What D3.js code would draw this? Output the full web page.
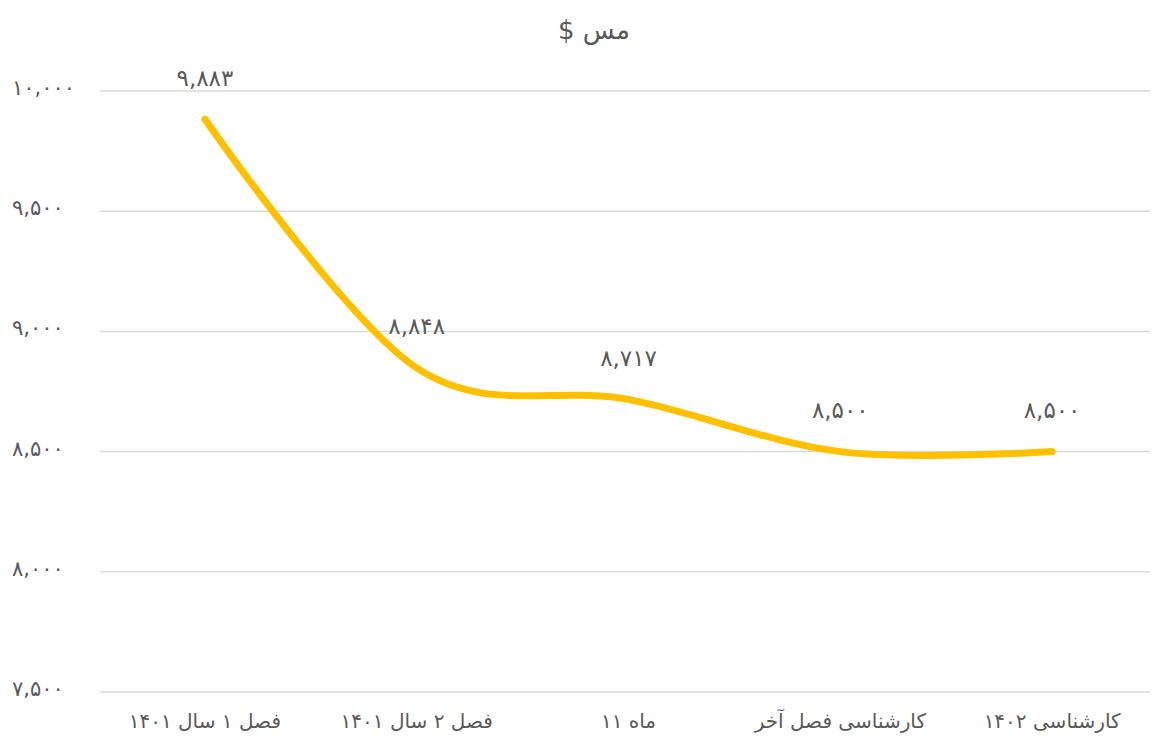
<!DOCTYPE html>
<html>
<head>
<meta charset="utf-8">
<script src="https://cdn.jsdelivr.net/npm/d3@7"></script>
<style>
  body { margin: 0; background: #fff; }
  text { font-family: "DejaVu Sans", sans-serif; fill: #595959; }
</style>
</head>
<body>
<div id="chart"></div>
<script>
// data
const categories = ["فصل ۱ سال ۱۴۰۱", "فصل ۲ سال ۱۴۰۱", "ماه ۱۱", "کارشناسی فصل آخر", "کارشناسی ۱۴۰۲"];
const values = [9883, 8848, 8717, 8500, 8500];
const yTicks = [7500, 8000, 8500, 9000, 9500, 10000];
const chartTitle = "مس $";

const W = 1152, H = 745;
const M = { top: 91, bottom: 53, left: 99 };

// persian digits with comma grouping
const fa = d3.formatLocale({
  decimal: ".", thousands: ",", grouping: [3], currency: ["", ""],
  numerals: ["۰", "۱", "۲", "۳", "۴", "۵", "۶", "۷", "۸", "۹"]
});
const fmt = fa.format(",d");

const svg = d3.select("#chart").append("svg")
  .attr("width", W).attr("height", H);

const x = d3.scaleBand().domain(categories).range([M.left, 1158]);
const y = d3.scaleLinear().domain([7500, 10000]).range([H - M.bottom, M.top]);
const cx = c => x(c) + x.bandwidth() / 2;

// gridlines
svg.append("g").selectAll("line")
  .data(yTicks).enter().append("line")
  .attr("x1", 100).attr("x2", 1150)
  .attr("y1", d => y(d)).attr("y2", d => y(d))
  .attr("stroke", "#d9d9d9").attr("stroke-width", 1.5);

// y labels (left aligned like the original)
svg.append("g").selectAll("text")
  .data(yTicks).enter().append("text")
  .attr("x", 12).attr("y", d => y(d) - 2)
  .attr("text-anchor", "start")
  .attr("dominant-baseline", "middle")
  .style("font-size", "21px")
  .text(d => fmt(d));

// x labels
svg.append("g").selectAll("text")
  .data(categories).enter().append("text")
  .attr("x", d => cx(d))
  .attr("y", 728)
  .attr("text-anchor", "middle")
  .attr("direction", "rtl")
  .style("font-size", "20px")
  .text(d => d);

// title
svg.append("text")
  .attr("x", 594).attr("y", 39)
  .attr("text-anchor", "middle")
  .attr("direction", "rtl")
  .style("font-size", "26px")
  .text(chartTitle);

// line
const line = d3.line()
  .x((d, i) => cx(categories[i]))
  .y(d => y(d))
  .curve(d3.curveCardinal.tension(0));

svg.append("path")
  .datum(values)
  .attr("d", line)
  .attr("fill", "none")
  .attr("stroke", "#FFC000")
  .attr("stroke-width", 7)
  .attr("stroke-linecap", "round")
  .attr("stroke-linejoin", "round");

// data labels
svg.append("g").selectAll("text")
  .data(values).enter().append("text")
  .attr("x", (d, i) => cx(categories[i]))
  .attr("y", d => y(d) - 40)
  .attr("text-anchor", "middle")
  .attr("dominant-baseline", "middle")
  .style("font-size", "23px")
  .text(d => fmt(d));
</script>
</body>
</html>
